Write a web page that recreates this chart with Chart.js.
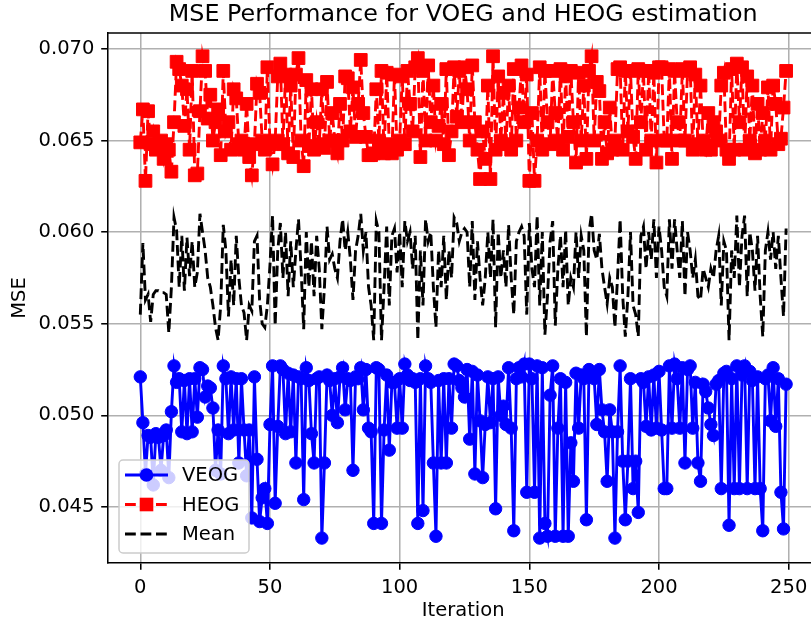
<!DOCTYPE html>
<html>
<head>
<meta charset="utf-8">
<script src="https://cdn.jsdelivr.net/npm/chart.js@4/dist/chart.umd.min.js"></script>
<style>
  html, body { margin: 0; padding: 0; background: #fff; overflow: hidden; }
  #wrap { width: 811px; height: 623px; overflow: hidden; }
</style>
</head>
<body>
<div id="wrap"><canvas id="mseChart" width="830" height="623"></canvas></div>
<script>
// Values (one entry per iteration, 0..249)
const veog = [
    0.0521, 0.0496, 0.0468, 0.0489, 0.0488, 0.0462, 0.0490, 0.0488, 0.0470, 0.0489, 0.0492, 0.0466, 0.0502, 0.0527, 0.0518, 0.0520, 0.0491, 0.0519, 0.0490, 0.0520, 0.0491, 0.0520,
    0.0499, 0.0526, 0.0525, 0.0510, 0.0516, 0.0515, 0.0504, 0.0470, 0.0492, 0.0468, 0.0527, 0.0520, 0.0490, 0.0521, 0.0492, 0.0520, 0.0474, 0.0520, 0.0492, 0.0467, 0.0492, 0.0444, 0.0521, 0.0476, 0.0442, 0.0455,
    0.0460, 0.0441, 0.0495, 0.0527, 0.0452, 0.0494, 0.0527, 0.0525, 0.0490, 0.0523, 0.0491, 0.0522, 0.0474, 0.0521, 0.0520, 0.0454, 0.0526, 0.0519, 0.0490, 0.0474, 0.0520, 0.0521, 0.0433, 0.0474, 0.0522, 0.0519,
    0.0500, 0.0520, 0.0496, 0.0521, 0.0526, 0.0503, 0.0520, 0.0519, 0.0470, 0.0521, 0.0520, 0.0526, 0.0503, 0.0525, 0.0493, 0.0491, 0.0441, 0.0526, 0.0525, 0.0441, 0.0492, 0.0522, 0.0481, 0.0518, 0.0518, 0.0493,
    0.0520, 0.0493, 0.0528, 0.0522, 0.0519, 0.0520, 0.0518, 0.0441, 0.0520, 0.0448, 0.0527, 0.0520, 0.0518, 0.0474, 0.0434, 0.0519, 0.0474, 0.0520, 0.0474, 0.0520, 0.0493, 0.0528, 0.0527, 0.0519, 0.0515, 0.0510,
    0.0525, 0.0487, 0.0524, 0.0468, 0.0522, 0.0497, 0.0466, 0.0495, 0.0521, 0.0496, 0.0520, 0.0449, 0.0521, 0.0500, 0.0505, 0.0495, 0.0526, 0.0493, 0.0437, 0.0520, 0.0526, 0.0521, 0.0528, 0.0458, 0.0528, 0.0520,
    0.0458, 0.0527, 0.0433, 0.0526, 0.0441, 0.0434, 0.0511, 0.0527, 0.0434, 0.0493, 0.0520, 0.0434, 0.0518, 0.0434, 0.0485, 0.0464, 0.0523, 0.0493, 0.0522, 0.0520, 0.0443, 0.0525, 0.0523, 0.0520, 0.0495,
    0.0525, 0.0503, 0.0491, 0.0464, 0.0503, 0.0491, 0.0433, 0.0491, 0.0527, 0.0475, 0.0443, 0.0475, 0.0520, 0.0460, 0.0475, 0.0447, 0.0520, 0.0518, 0.0494, 0.0521, 0.0492, 0.0522, 0.0493, 0.0524, 0.0492, 0.0460,
    0.0460, 0.0527, 0.0493, 0.0528, 0.0520, 0.0493, 0.0526, 0.0474, 0.0525, 0.0527, 0.0493, 0.0518, 0.0474, 0.0464, 0.0517, 0.0513, 0.0504, 0.0495, 0.0489, 0.0517, 0.0519, 0.0460, 0.0523, 0.0524, 0.0440, 0.0520,
    0.0460, 0.0527, 0.0460, 0.0522, 0.0527, 0.0460, 0.0524, 0.0519, 0.0460, 0.0521, 0.0460, 0.0437, 0.0520, 0.0522, 0.0497, 0.0526, 0.0494, 0.0520, 0.0458, 0.0438, 0.0517
];

const heog = [
    0.0649, 0.0667, 0.0628, 0.0666, 0.0648, 0.0655, 0.0645, 0.0646, 0.0650, 0.0640, 0.0648, 0.0645, 0.0633, 0.0660, 0.0693, 0.0689, 0.0680, 0.0658, 0.0678, 0.0645, 0.0688, 0.0631,
    0.0632, 0.0666, 0.0696, 0.0688, 0.0662, 0.0675, 0.0650, 0.0660, 0.0667, 0.0642, 0.0688, 0.0655, 0.0660, 0.0645, 0.0678, 0.0673, 0.0648, 0.0650, 0.0645, 0.0670, 0.0641, 0.0631, 0.0648, 0.0681, 0.0676, 0.0650,
    0.0645, 0.0690, 0.0648, 0.0637, 0.0650, 0.0685, 0.0692, 0.0648, 0.0686, 0.0643, 0.0680, 0.0641, 0.0686, 0.0695, 0.0650, 0.0636, 0.0683, 0.0647, 0.0678, 0.0645, 0.0660, 0.0648, 0.0678, 0.0646, 0.0682, 0.0650,
    0.0665, 0.0650, 0.0643, 0.0670, 0.0650, 0.0685, 0.0684, 0.0655, 0.0679, 0.0652, 0.0670, 0.0694, 0.0665, 0.0652, 0.0642, 0.0642, 0.0643, 0.0678, 0.0650, 0.0688, 0.0643, 0.0687, 0.0648, 0.0643, 0.0686, 0.0645,
    0.0650, 0.0685, 0.0648, 0.0688, 0.0670, 0.0655, 0.0690, 0.0695, 0.0641, 0.0688, 0.0650, 0.0691, 0.0660, 0.0680, 0.0650, 0.0658, 0.0670, 0.0648, 0.0689, 0.0642, 0.0655, 0.0690, 0.0663, 0.0688, 0.0660, 0.0690,
    0.0678, 0.0650, 0.0691, 0.0660, 0.0645, 0.0629, 0.0655, 0.0640, 0.0680, 0.0629, 0.0696, 0.0645, 0.0685, 0.0650, 0.0676, 0.0648, 0.0680, 0.0645, 0.0689, 0.0650, 0.0668, 0.0691, 0.0660, 0.0686, 0.0628, 0.0665,
    0.0628, 0.0650, 0.0690, 0.0645, 0.0688, 0.0660, 0.0648, 0.0688, 0.0665, 0.0650, 0.0689, 0.0645, 0.0685, 0.0652, 0.0688, 0.0660, 0.0638, 0.0687, 0.0650, 0.0680, 0.0640, 0.0688, 0.0696, 0.0650, 0.0682,
    0.0677, 0.0640, 0.0660, 0.0643, 0.0668, 0.0645, 0.0650, 0.0689, 0.0690, 0.0645, 0.0688, 0.0655, 0.0688, 0.0652, 0.0640, 0.0689, 0.0660, 0.0688, 0.0645, 0.0688, 0.0650, 0.0687, 0.0638, 0.0690, 0.0690, 0.0650,
    0.0650, 0.0689, 0.0640, 0.0688, 0.0660, 0.0650, 0.0689, 0.0650, 0.0688, 0.0690, 0.0645, 0.0686, 0.0648, 0.0680, 0.0650, 0.0645, 0.0665, 0.0645, 0.0660, 0.0655, 0.0650, 0.0680, 0.0687, 0.0645, 0.0640, 0.0689,
    0.0645, 0.0692, 0.0660, 0.0690, 0.0645, 0.0685, 0.0650, 0.0680, 0.0643, 0.0670, 0.0645, 0.0665, 0.0650, 0.0679, 0.0645, 0.0680, 0.0670, 0.0648, 0.0651, 0.0668, 0.0688
];

const meanMse = [
    0.0555, 0.0594, 0.0563, 0.0566, 0.0551, 0.0566, 0.0568, 0.0568, 0.0567, 0.0567, 0.0566, 0.0545, 0.0570, 0.0608, 0.0601, 0.0570, 0.0598, 0.0568, 0.0597, 0.0576, 0.0595, 0.0570,
    0.0578, 0.0610, 0.0600, 0.0590, 0.0575, 0.0570, 0.0560, 0.0548, 0.0541, 0.0560, 0.0604, 0.0590, 0.0554, 0.0585, 0.0560, 0.0598, 0.0575, 0.0560, 0.0556, 0.0541, 0.0560, 0.0557, 0.0595, 0.0598, 0.0563, 0.0550,
    0.0548, 0.0560, 0.0582, 0.0609, 0.0549, 0.0590, 0.0605, 0.0575, 0.0600, 0.0565, 0.0595, 0.0570, 0.0590, 0.0607, 0.0580, 0.0547, 0.0600, 0.0570, 0.0595, 0.0565, 0.0598, 0.0580, 0.0547, 0.0570, 0.0603, 0.0585,
    0.0588, 0.0580, 0.0575, 0.0595, 0.0607, 0.0590, 0.0600, 0.0585, 0.0563, 0.0590, 0.0598, 0.0610, 0.0590, 0.0600, 0.0570, 0.0560, 0.0541, 0.0606, 0.0600, 0.0541, 0.0570, 0.0603, 0.0560, 0.0598, 0.0602, 0.0578,
    0.0600, 0.0570, 0.0606, 0.0595, 0.0600, 0.0580, 0.0598, 0.0541, 0.0590, 0.0560, 0.0607, 0.0595, 0.0600, 0.0570, 0.0548, 0.0590, 0.0570, 0.0598, 0.0563, 0.0590, 0.0575, 0.0608, 0.0605, 0.0595, 0.0600, 0.0602,
    0.0600, 0.0570, 0.0606, 0.0563, 0.0595, 0.0575, 0.0560, 0.0575, 0.0600, 0.0575, 0.0607, 0.0548, 0.0600, 0.0575, 0.0590, 0.0570, 0.0604, 0.0575, 0.0555, 0.0595, 0.0600, 0.0603, 0.0598, 0.0555, 0.0605, 0.0580,
    0.0570, 0.0609, 0.0560, 0.0600, 0.0544, 0.0565, 0.0595, 0.0606, 0.0549, 0.0580, 0.0598, 0.0570, 0.0601, 0.0560, 0.0575, 0.0570, 0.0600, 0.0575, 0.0598, 0.0590, 0.0543, 0.0600, 0.0610, 0.0590, 0.0585,
    0.0599, 0.0580, 0.0570, 0.0561, 0.0575, 0.0570, 0.0548, 0.0575, 0.0607, 0.0565, 0.0543, 0.0565, 0.0600, 0.0560, 0.0555, 0.0543, 0.0598, 0.0603, 0.0580, 0.0600, 0.0585, 0.0607, 0.0575, 0.0603, 0.0590, 0.0570,
    0.0565, 0.0607, 0.0580, 0.0607, 0.0590, 0.0575, 0.0606, 0.0565, 0.0600, 0.0590, 0.0575, 0.0585, 0.0565, 0.0563, 0.0580, 0.0575, 0.0570, 0.0580, 0.0575, 0.0590, 0.0598, 0.0560, 0.0595, 0.0590, 0.0541, 0.0590,
    0.0575, 0.0609, 0.0570, 0.0598, 0.0609, 0.0565, 0.0600, 0.0590, 0.0568, 0.0598, 0.0565, 0.0543, 0.0590, 0.0600, 0.0585, 0.0600, 0.0580, 0.0598, 0.0575, 0.0554, 0.0602
];

const xTicks = [0, 50, 100, 150, 200, 250];
const yTicks = [0.045, 0.050, 0.055, 0.060, 0.065, 0.070];

const FONT = "'DejaVu Sans', 'Liberation Sans', sans-serif";

// Turn a value list into {x, y} points, x being the iteration index
function toPoints(values) {
    return values.map((v, i) => ({ x: i, y: v }));
}

// Title, axis titles, top frame and the legend box (matplotlib look)
const decorPlugin = {
    id: 'decor',
    afterDraw(chart) {
        const ctx = chart.ctx;
        const area = chart.chartArea;
        ctx.save();

        // top spine
        ctx.strokeStyle = '#000';
        ctx.lineWidth = 1.55;
        ctx.beginPath();
        ctx.moveTo(area.left, area.top);
        ctx.lineTo(area.right, area.top);
        ctx.stroke();

        const midX = (area.left + area.right) / 2;
        ctx.fillStyle = '#000';

        // title
        ctx.font = '23.8px ' + FONT;
        ctx.textAlign = 'center';
        ctx.textBaseline = 'alphabetic';
        ctx.fillText('MSE Performance for VOEG and HEOG estimation', midX, 21);

        // axis titles
        ctx.font = '19.5px ' + FONT;
        ctx.fillText('Iteration', midX, 616);
        ctx.save();
        ctx.translate(25, (area.top + area.bottom) / 2);
        ctx.rotate(-Math.PI / 2);
        ctx.fillText('MSE', 0, 0);
        ctx.restore();

        // legend frame
        const lx = 119, ly = 460, lw = 130, lh = 93, r = 4;
        ctx.beginPath();
        ctx.moveTo(lx + r, ly);
        ctx.arcTo(lx + lw, ly, lx + lw, ly + lh, r);
        ctx.arcTo(lx + lw, ly + lh, lx, ly + lh, r);
        ctx.arcTo(lx, ly + lh, lx, ly, r);
        ctx.arcTo(lx, ly, lx + lw, ly, r);
        ctx.closePath();
        ctx.fillStyle = 'rgba(255,255,255,0.8)';
        ctx.fill();
        ctx.strokeStyle = '#cccccc';
        ctx.lineWidth = 1.5;
        ctx.stroke();

        const entries = [
            { label: 'VEOG', color: '#0000ff', dash: [], marker: 'circle', y: 475 },
            { label: 'HEOG', color: '#ff0000', dash: [10.8, 4.7], marker: 'rect', y: 504.5 },
            { label: 'Mean', color: '#000000', dash: [10.8, 4.7], marker: null, y: 534 }
        ];
        entries.forEach(e => {
            ctx.strokeStyle = e.color;
            ctx.lineWidth = 2.9;
            ctx.setLineDash(e.dash);
            ctx.beginPath();
            ctx.moveTo(125, e.y);
            ctx.lineTo(168, e.y);
            ctx.stroke();
            ctx.setLineDash([]);
            ctx.fillStyle = e.color;
            if (e.marker === 'circle') {
                ctx.beginPath();
                ctx.arc(146.5, e.y, 6.8, 0, Math.PI * 2);
                ctx.fill();
            } else if (e.marker === 'rect') {
                ctx.fillRect(146.5 - 6.8, e.y - 6.8, 13.6, 13.6);
            }
            ctx.fillStyle = '#000';
            ctx.font = '19.5px ' + FONT;
            ctx.textAlign = 'left';
            ctx.textBaseline = 'middle';
            ctx.fillText(e.label, 182, e.y + 1);
        });

        ctx.restore();
    }
};

function initMseChart() {
    const ctx = document.getElementById('mseChart').getContext('2d');

    Chart.defaults.font.family = FONT;
    Chart.defaults.font.size = 19.5;
    Chart.defaults.color = '#000';

    const data = {
        datasets: [{
            label: 'VEOG',
            data: toPoints(veog),
            borderColor: '#0000ff',
            backgroundColor: '#0000ff',
            borderWidth: 2.9,
            pointStyle: 'circle',
            pointRadius: 6.2,
            pointBorderWidth: 1,
            pointBackgroundColor: '#0000ff',
            pointBorderColor: '#0000ff',
            tension: 0,
            fill: false,
            order: 3
        }, {
            label: 'HEOG',
            data: toPoints(heog),
            borderColor: '#ff0000',
            backgroundColor: '#ff0000',
            borderWidth: 2.9,
            borderDash: [10.8, 4.7],
            pointStyle: 'rect',
            pointRadius: 9,
            pointBorderWidth: 1,
            pointBackgroundColor: '#ff0000',
            pointBorderColor: '#ff0000',
            tension: 0,
            fill: false,
            order: 2
        }, {
            label: 'Mean',
            data: toPoints(meanMse),
            borderColor: '#000000',
            borderWidth: 2.9,
            borderDash: [10.8, 4.7],
            pointRadius: 0,
            tension: 0,
            fill: false,
            order: 1
        }]
    };

    const config = {
        type: 'line',
        data: data,
        options: {
            responsive: false,
            animation: false,
            events: [],
            layout: {
                padding: { top: 33, right: 11.6, bottom: 0, left: 0 }
            },
            plugins: {
                legend: { display: false },
                title: { display: false },
                tooltip: { enabled: false }
            },
            scales: {
                x: {
                    type: 'linear',
                    min: -12.45,
                    max: 261.45,
                    afterFit: scale => { scale.height = 60; },
                    afterBuildTicks: scale => { scale.ticks = xTicks.map(v => ({ value: v })); },
                    grid: {
                        color: '#b0b0b0',
                        lineWidth: 1.55,
                        tickColor: '#000',
                        tickLength: 6.8,
                        tickWidth: 1.55
                    },
                    border: { color: '#000', width: 1.55 },
                    ticks: {
                        autoSkip: false,
                        maxRotation: 0,
                        padding: 6,
                        font: { size: 19.5 },
                        callback: value => String(value)
                    }
                },
                y: {
                    type: 'linear',
                    min: 0.04194,
                    max: 0.07087,
                    afterFit: scale => { scale.width = 108; },
                    afterBuildTicks: scale => { scale.ticks = yTicks.map(v => ({ value: v })); },
                    grid: {
                        color: '#b0b0b0',
                        lineWidth: 1.55,
                        tickColor: '#000',
                        tickLength: 6.8,
                        tickWidth: 1.55
                    },
                    border: { color: '#000', width: 1.55 },
                    ticks: {
                        autoSkip: false,
                        padding: 6.8,
                        font: { size: 19.5 },
                        callback: value => value.toFixed(3)
                    }
                }
            }
        },
        plugins: [decorPlugin]
    };

    new Chart(ctx, config);
}

document.addEventListener('DOMContentLoaded', () => {
    initMseChart();
});
</script>
</body>
</html>
